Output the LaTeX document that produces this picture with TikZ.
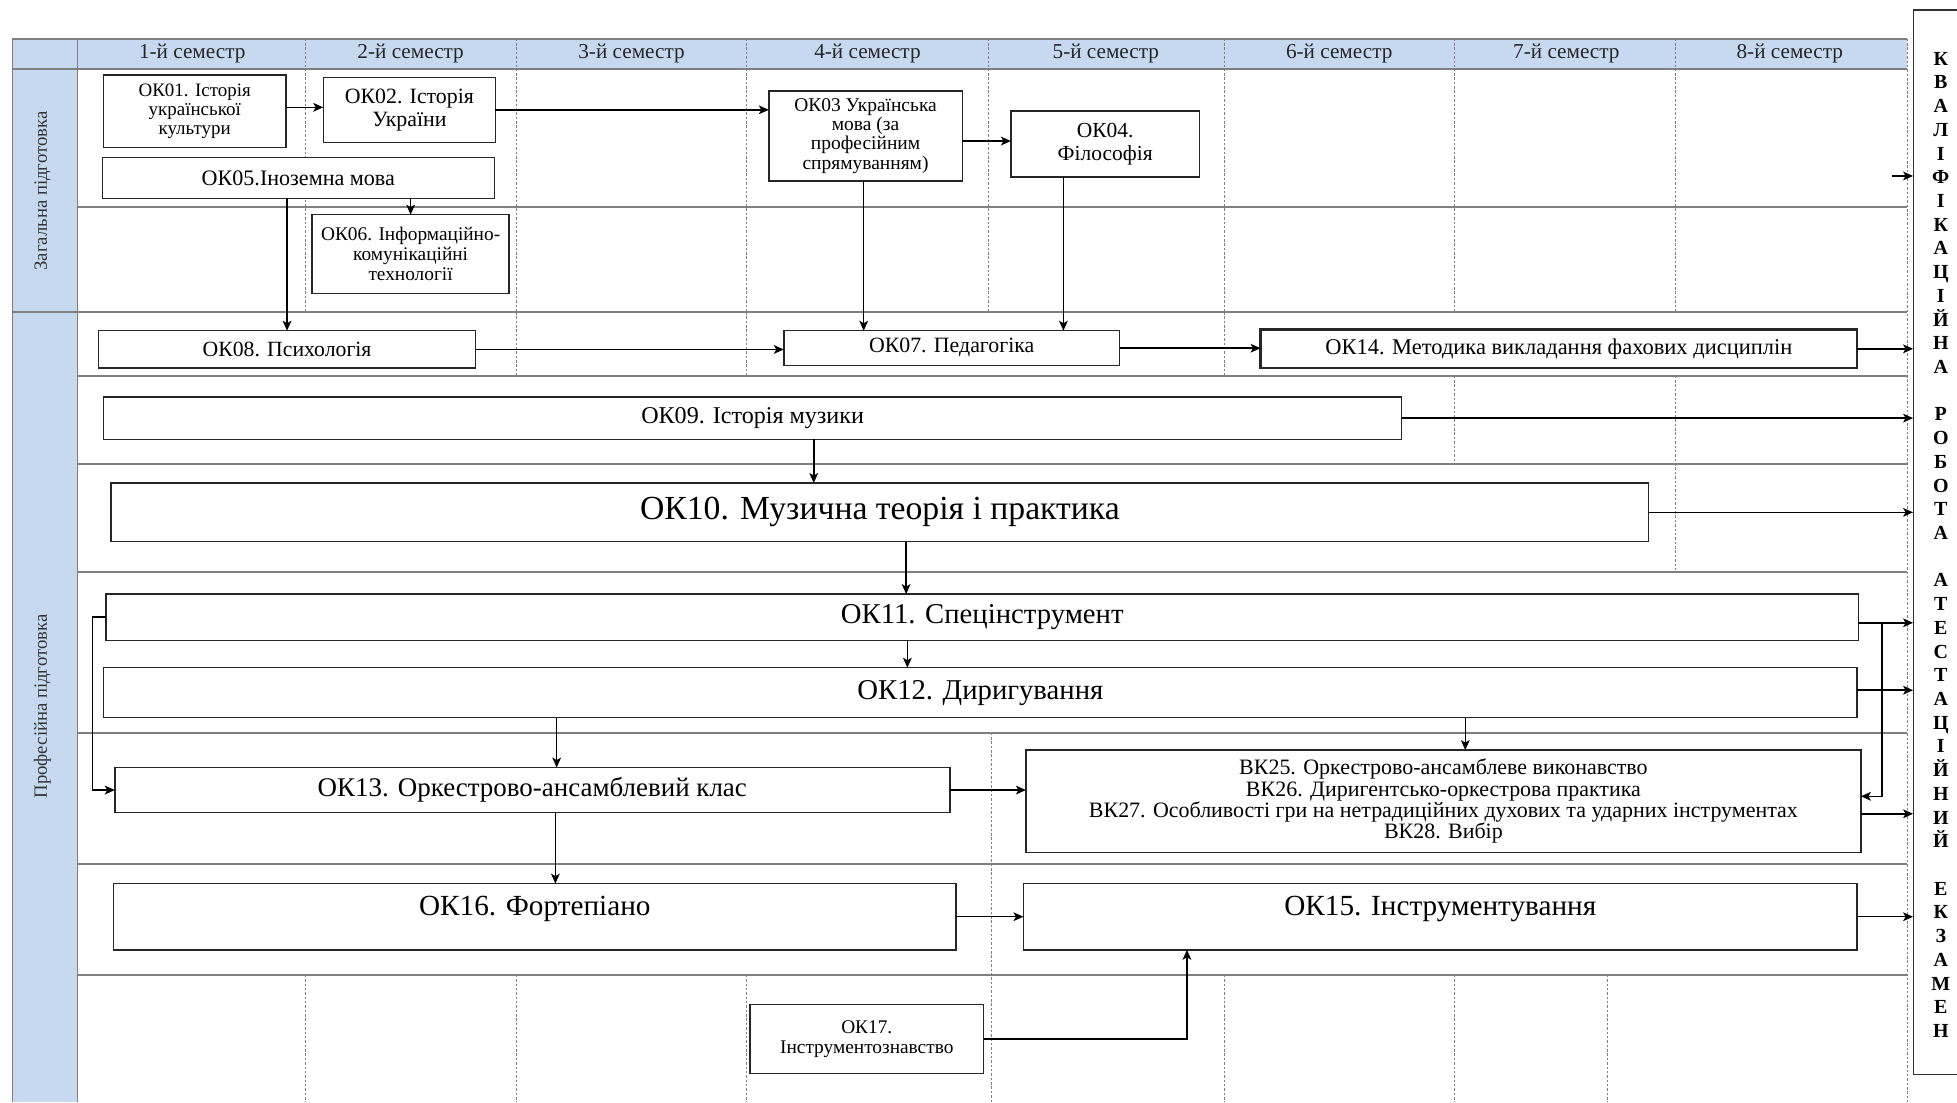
\documentclass[tikz,border=0pt]{standalone}
\usepackage{fontspec}
\setmainfont{Liberation Serif}
\usetikzlibrary{arrows.meta}
\definecolor{hdr}{HTML}{C6D9F1}
\definecolor{gridc}{HTML}{7F7F7F}
\newcommand{\fsz}[2]{\fontsize{#1}{#2}\selectfont}
\begin{document}
\begin{tikzpicture}[x=1pt,y=-1pt,
  gridline/.style={draw=gridc, line width=1.4pt},
  colline/.style={draw=gridc, line width=0.7pt, dash pattern=on 2pt off 1.5pt},
  box/.style={draw=black!85, line width=1.2pt, fill=white, inner sep=1pt, outer sep=0pt, align=center},
  hdrtxt/.style={font=\fsz{17}{19}, text=black!85},
  lanetxt/.style={font=\fsz{15}{17}, text=black!80, rotate=90},
  arr/.style={draw=black, line width=1.2pt, -{Stealth[length=8pt,width=7pt,inset=2pt]}},
  qualtxt/.style={font=\fsz{16}{19}\bfseries, align=center, inner sep=0pt, minimum width=44pt}
]
\useasboundingbox (0,0) rectangle (1568,883);
% ---------- table backgrounds ----------
\fill[hdr] (10,31) rectangle (1528,55);
\fill[hdr] (10,55) rectangle (62,883);
% ---------- dashed column lines ----------
\foreach \x in {245,414,598,792,981,1165,1342} {\draw[colline] (\x,31) -- (\x,55);}
\foreach \x in {245,414,598,792,981,1165,1342} {\draw[colline] (\x,55) -- (\x,250);}
\foreach \x in {414,598,981} {\draw[colline] (\x,250) -- (\x,301);}
\draw[colline] (1165,301) -- (1165,372);
\draw[colline] (1342,301) -- (1342,458);
\draw[colline] (794,587) -- (794,883);
\foreach \x in {245,414,598,981,1165,1288} {\draw[colline] (\x,781) -- (\x,883);}
\draw[colline] (1528,31) -- (1528,883);
% ---------- grid lines ----------
\draw[gridline] (10,31) -- (1528,31);
\draw[gridline] (10,55) -- (1528,55);
\draw[gridline] (10,31) -- (10,883);
\draw[gridline] (62,31) -- (62,883);
\draw[gridline] (10,250) -- (1528,250);
\foreach \y in {166,301,372,458,587,692,781} {\draw[gridline] (62,\y) -- (1528,\y);}
% ---------- header ----------
\node[hdrtxt] (h1) at (154,43) {1-й семестр};
\node[hdrtxt] (h2) at (329,43) {2-й семестр};
\node[hdrtxt] (h3) at (506,43) {3-й семестр};
\node[hdrtxt] (h4) at (695,43) {4-й семестр};
\node[hdrtxt] (h5) at (886,43) {5-й семестр};
\node[hdrtxt] (h6) at (1073,43) {6-й семестр};
\node[hdrtxt] (h7) at (1255,43) {7-й семестр};
\node[hdrtxt] (h8) at (1434,43) {8-й семестр};
% ---------- lane labels ----------
\node[lanetxt] (lane1) at (34,153) {Загальна підготовка};
\node[lanetxt] (lane2) at (34,566) {Професійна підготовка};
% ---------- qualification column ----------
\draw[draw=black!80, line width=1.3pt] (1570,8) -- (1533,8) -- (1533,861) -- (1570,861);
\node[qualtxt] (qual) at (1555,436.5) {К\\В\\А\\Л\\І\\Ф\\І\\К\\А\\Ц\\І\\Й\\Н\\А\\[19pt]Р\\О\\Б\\О\\Т\\А\\[19pt]А\\Т\\Е\\С\\Т\\А\\Ц\\І\\Й\\Н\\И\\Й\\[19pt]Е\\К\\З\\А\\М\\Е\\Н};
% ---------- boxes ----------
\node[box, minimum width=146pt, minimum height=58pt, font=\fsz{15.2}{15}] (ok01) at (156,89) {ОК01. Історія\\української\\культури};
\node[box, minimum width=138pt, minimum height=52pt, font=\fsz{17.5}{18}] (ok02) at (328,88) {ОК02. Історія\\України};
\node[box, minimum width=155pt, minimum height=72pt, font=\fsz{15.6}{15.3}] (ok03) at (693.5,109) {ОК03 Українська\\мова (за\\професійним\\спрямуванням)};
\node[box, minimum width=151pt, minimum height=53pt, font=\fsz{17.2}{18}] (ok04) at (885.5,115.5) {ОК04.\\Філософія};
\node[box, minimum width=314pt, minimum height=33pt, font=\fsz{17.7}{19}] (ok05) at (239,142.5) {ОК05.Іноземна мова};
\node[box, minimum width=158pt, minimum height=63pt, font=\fsz{15.5}{16}] (ok06) at (329,203.5) {ОК06. Інформаційно-\\комунікаційні\\технології};
\node[box, minimum width=302pt, minimum height=30pt, font=\fsz{17.4}{19}] (ok08) at (230,280) {ОК08. Психологія};
\node[box, minimum width=269pt, minimum height=28pt, font=\fsz{17.5}{19}, text depth=5pt] (ok07) at (762.5,279) {ОК07. Педагогіка};
\node[box, minimum width=478pt, minimum height=31pt, line width=2pt, font=\fsz{18}{20}] (ok14) at (1249,279.5) {ОК14. Методика викладання фахових дисциплін};
\node[box, minimum width=1040pt, minimum height=34pt, font=\fsz{19.3}{21}] (ok09) at (603,335) {ОК09. Історія музики};
\node[box, minimum width=1232pt, minimum height=47pt, font=\fsz{27}{29}] (ok10) at (705,410.5) {ОК10. Музична теорія і практика};
\node[box, minimum width=1404pt, minimum height=37pt, font=\fsz{23}{25}] (ok11) at (787,494.5) {ОК11. Спецінструмент};
\node[box, minimum width=1405pt, minimum height=40pt, font=\fsz{23}{25}] (ok12) at (785.5,555) {ОК12. Диригування};
\node[box, minimum width=669pt, minimum height=36pt, font=\fsz{21.6}{24}] (ok13) at (426.5,633) {ОК13. Оркестрово-ансамблевий клас};
\node[box, minimum width=669pt, minimum height=82pt, font=\fsz{17.6}{17}] (vk) at (1156.5,642) {ВК25. Оркестрово-ансамблеве виконавство\\ВК26. Диригентсько-оркестрова практика\\ВК27. Особливості гри на нетрадиційних духових та ударних інструментах\\ВК28. Вибір};
\node[box, minimum width=675pt, minimum height=53pt, font=\fsz{23.4}{25}, text depth=18pt] (ok16) at (428.5,734.5) {ОК16. Фортепіано};
\node[box, minimum width=668pt, minimum height=53pt, font=\fsz{23.4}{25}, text depth=18pt] (ok15) at (1154,734.5) {ОК15. Інструментування};
\node[box, minimum width=187pt, minimum height=55pt, font=\fsz{15.5}{16}] (ok17) at (694.5,832.5) {ОК17.\\Інструментознавство};
% ---------- connectors ----------
\coordinate (gfree) at (1516,141);
\draw[arr] ([yshift=3pt]ok01.east) -- ([yshift=3pt]ok01.east -| ok02.west);
\draw[arr] (ok02.east) -- (ok02.east -| ok03.west);
\draw[arr] ([yshift=-4pt]ok03.east) -- ([yshift=-4pt]ok03.east -| ok04.west);
\draw[arr] (ok05.south -| ok06.north) -- (ok06.north);
\draw[arr] (ok05.south -| ok08.north) -- (ok08.north);
\draw[arr] (gfree) -- (gfree -| qual.west);
\draw[arr] (ok08.east) -- (ok08.east -| ok07.west);
\draw[arr] ([xshift=-1.5pt]ok03.south) -- ([xshift=-1.5pt]ok03.south |- ok07.north);
\draw[arr] ([xshift=-33.5pt]ok04.south) -- ([xshift=-33.5pt]ok04.south |- ok07.north);
\draw[arr] (ok07.east) -- (ok07.east -| ok14.west);
\draw[arr] (ok14.east) -- (ok14.east -| qual.west);
\draw[arr] (ok09.east) -- (ok09.east -| qual.west);
\draw[arr] ([xshift=49pt]ok09.south) -- ([xshift=49pt]ok09.south |- ok10.north);
\draw[arr] (ok10.east) -- (ok10.east -| qual.west);
\draw[arr] ([xshift=21pt]ok10.south) -- ([xshift=21pt]ok10.south |- ok11.north);
\draw[arr] ([xshift=-60pt]ok11.south) -- ([xshift=-60pt]ok11.south |- ok12.north);
\draw[arr] ([yshift=-4.5pt]ok11.east) -- ([yshift=-4.5pt]ok11.east -| qual.west);
\draw[arr] ([yshift=2pt]ok12.east) -- ([yshift=2pt]ok12.east -| qual.west);
\draw[arr] (ok11.west) -- ++(-11,0) |- (ok13.west);
\draw[arr] ([yshift=-4.5pt]ok11.east) -- ++(19,0) |- ([yshift=4pt]vk.east);
\draw[arr] ([xshift=19.5pt]ok13.north |- ok12.south) -- ([xshift=19.5pt]ok13.north);
\draw[arr] ([xshift=17.5pt]vk.north |- ok12.south) -- ([xshift=17.5pt]vk.north);
\draw[arr] (ok13.east) -- (ok13.east -| vk.west);
\draw[arr] ([yshift=-10pt]vk.east) -- ([yshift=-10pt]vk.east -| qual.west);
\draw[arr] ([xshift=18.5pt]ok13.south) -- ([xshift=18.5pt]ok13.south |- ok16.north);
\draw[arr] (ok16.east) -- (ok16.east -| ok15.west);
\draw[arr] (ok15.east) -- (ok15.east -| qual.west);
\draw[arr] (ok17.east) -| ([xshift=-203pt]ok15.south);
\end{tikzpicture}
\end{document}
